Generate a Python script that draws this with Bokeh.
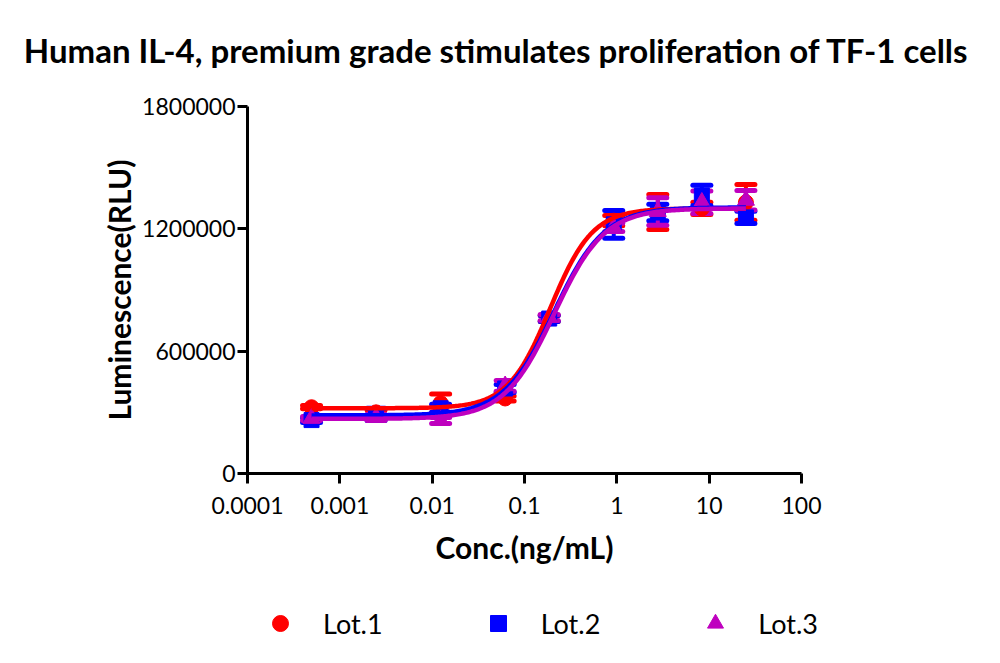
import numpy as np
from bokeh.plotting import figure
from bokeh.models import (Range1d, FixedTicker, CustomJSTickFormatter, NumeralTickFormatter,
                          Whisker, TeeHead, ColumnDataSource, Legend, LegendItem, Label)
from bokeh.embed import file_html
from bokeh.resources import INLINE

# ---------------- data ----------------
conc = [0.0004938, 0.002469, 0.01235, 0.06173, 0.1852, 0.9259, 2.778, 8.333, 25.0]

lot1_mean = [325000, 300000, 345000, 368000, 760000, 1240000, 1283000, 1300000, 1330000]
lot1_sd = [8000, 12000, 45000, 12000, 15000, 25000, 86000, 30000, 88000]
lot2_mean = [262000, 290000, 320000, 417000, 760000, 1222000, 1280000, 1364000, 1256000]
lot2_sd = [12000, 30000, 20000, 20000, 15000, 68000, 40000, 50000, 30000]
lot3_mean = [270000, 275000, 260000, 430000, 765000, 1207000, 1285000, 1330000, 1340000]
lot3_sd = [10000, 15000, 15000, 26000, 15000, 20000, 68000, 55000, 48000]

# four-parameter logistic fit parameters: bottom, top, EC50, hill
fit1 = [320000, 1300000, 0.19, 1.9]
fit2 = [285000, 1305000, 0.21, 1.6]
fit3 = [268000, 1300000, 0.21, 1.6]

lot_names = ["Lot.1", "Lot.2", "Lot.3"]
colors = ["#FF0000", "#0000FF", "#BF00BF"]
markers = ["circle", "square", "triangle"]

x_ticks = [0.0001, 0.001, 0.01, 0.1, 1, 10, 100]
y_ticks = [0, 600000, 1200000, 1800000]
x_bounds = (0.0001, 100)
y_bounds = (0, 1800000)

FONT = "Lato"

# ---------------- layout (pixels) ----------------
W, H = 984, 647
AX_L, AX_R, AX_T, AX_B = 247, 801, 106, 473   # where the axes lie on the canvas

dec_px = (AX_R - AX_L) / (np.log10(x_bounds[1]) - np.log10(x_bounds[0]))
x_start = 10 ** (np.log10(x_bounds[0]) - AX_L / dec_px)
x_end = 10 ** (np.log10(x_bounds[1]) + (W - AX_R) / dec_px)
ypp = (y_bounds[1] - y_bounds[0]) / (AX_B - AX_T)
y_end = y_bounds[1] + AX_T * ypp
y_start = y_bounds[0] - (H - AX_B) * ypp

p = figure(width=W, height=H, x_axis_type="log",
           x_range=Range1d(x_start, x_end), y_range=Range1d(y_start, y_end),
           output_backend="svg", toolbar_location=None, min_border=0)
p.outline_line_color = None
p.xgrid.visible = False
p.ygrid.visible = False
p.background_fill_color = "white"
p.border_fill_color = "white"

# axes
for ax in (p.xaxis[0], p.yaxis[0]):
    ax.axis_line_width = 3
    ax.axis_line_color = "black"
    ax.major_tick_line_width = 3
    ax.major_tick_line_color = "black"
    ax.major_tick_out = 10
    ax.major_tick_in = 0
    ax.minor_tick_line_color = None
    ax.major_label_text_font = FONT
    ax.major_label_text_font_size = "23px"
    ax.major_label_text_color = "black"
    ax.axis_label_text_font = FONT
    ax.axis_label_text_font_size = "30px"
    ax.axis_label_text_font_style = "bold"
    ax.axis_label_text_color = "black"

xa = p.xaxis[0]
xa.fixed_location = y_bounds[0]
xa.bounds = x_bounds
xa.ticker = FixedTicker(ticks=x_ticks)
xa.formatter = CustomJSTickFormatter(code="return tick.toString()")
xa.major_label_standoff = 13
xa.axis_label = "Conc.(ng/mL)"
xa.axis_label_standoff = 12

ya = p.yaxis[0]
ya.fixed_location = x_bounds[0]
ya.bounds = y_bounds
ya.ticker = FixedTicker(ticks=y_ticks)
ya.formatter = NumeralTickFormatter(format="0")
ya.major_label_standoff = 2
ya.axis_label = "Luminescence(RLU)"
ya.axis_label_standoff = 2

means = [lot1_mean, lot2_mean, lot3_mean]
sds = [lot1_sd, lot2_sd, lot3_sd]
fits = [fit1, fit2, fit3]

scatter_renderers = []
for i in range(3):
    m = np.array(means[i], dtype=float)
    s = np.array(sds[i], dtype=float)
    src = ColumnDataSource(dict(x=conc, y=m, lo=m - s, hi=m + s))
    w = Whisker(base="x", upper="hi", lower="lo", source=src, dimension="height",
                line_color=colors[i], line_width=4,
                upper_head=TeeHead(size=18, line_color=colors[i], line_width=5, line_cap="round"),
                lower_head=TeeHead(size=18, line_color=colors[i], line_width=5, line_cap="round"))
    p.add_layout(w)
    r = p.scatter("x", "y", source=src, marker=markers[i], size=15 if i != 2 else 17,
                  fill_color=colors[i], line_color=colors[i])
    scatter_renderers.append(r)

for i in range(3):
    b, t, ec, h = fits[i]
    xs = np.logspace(np.log10(conc[0]), np.log10(conc[-1]), 300)
    ys = b + (t - b) / (1 + (ec / xs) ** h)
    p.line(xs, ys, line_color=colors[i], line_width=4.5)

legend = Legend(items=[LegendItem(label=lot_names[i], renderers=[scatter_renderers[i]]) for i in range(3)],
                location=(260, 4), orientation="horizontal",
                glyph_width=40, glyph_height=40, label_standoff=23,
                padding=0, margin=0, spacing=95,
                border_line_color=None, background_fill_alpha=0,
                label_text_font=FONT, label_text_font_size="27px", label_text_color="black")
p.add_layout(legend)

title = Label(x=500, y=H - 49, x_units="screen", y_units="screen",
              text="Human IL-4, premium grade  stimulates proliferation of TF-1 cells",
              text_font=FONT, text_font_size="33px", text_font_style="bold",
              text_align="center", text_baseline="middle", text_color="black")
p.add_layout(title)

open("out.html", "w").write(file_html(p, INLINE))
